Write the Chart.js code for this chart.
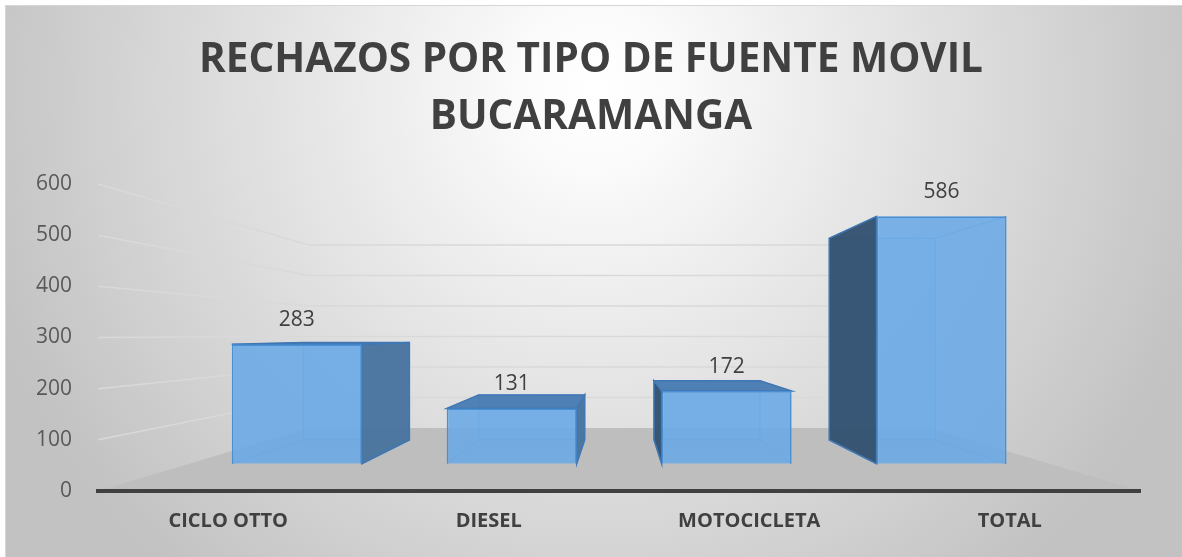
<!DOCTYPE html>
<html>
<head>
<meta charset="utf-8">
<script src="https://cdn.jsdelivr.net/npm/chart.js@4.4.1/dist/chart.umd.min.js"></script>
<style>
  html, body { margin: 0; padding: 0; background: #fff; }
  #wrap { width: 1182px; height: 557px; }
</style>
</head>
<body>
<div id="wrap"><canvas id="chart"></canvas></div>
<script>
const categories = ['CICLO OTTO', 'DIESEL', 'MOTOCICLETA', 'TOTAL'];
const rechazos = [283, 131, 172, 586];
const yTicks = [0, 100, 200, 300, 400, 500, 600];

// fake 3D: vanishing point and depth ratios (1 = axis plane)
const view = { vx: 620, vy: 335, kFront: 0.825, kBack: 0.673, kWall: 0.596 };

function project(x, y, k) {
    return [view.vx + k * (x - view.vx), view.vy + k * (y - view.vy)];
}

function poly(ctx, pts) {
    ctx.beginPath();
    ctx.moveTo(pts[0][0], pts[0][1]);
    for (let i = 1; i < pts.length; i++) ctx.lineTo(pts[i][0], pts[i][1]);
    ctx.closePath();
}

function line(ctx, a, b) {
    ctx.beginPath();
    ctx.moveTo(a[0], a[1]);
    ctx.lineTo(b[0], b[1]);
    ctx.stroke();
}

// background, floor and walls
const scene = {
    id: 'scene',
    beforeDraw(chart) {
        const ctx = chart.ctx;
        const area = chart.chartArea;
        const y = chart.scales.y;
        const W = chart.width, H = chart.height;
        ctx.save();
        ctx.fillStyle = '#ffffff';
        ctx.fillRect(0, 0, W, H);
        const g = ctx.createRadialGradient(595, 90, 0, 595, 90, 640);
        g.addColorStop(0, '#ffffff');
        g.addColorStop(0.1, '#fcfcfc');
        g.addColorStop(1, '#c2c2c2');
        ctx.fillStyle = g;
        ctx.fillRect(5, 5, W - 5, H - 5);
        ctx.strokeStyle = '#d6d6d6';
        ctx.lineWidth = 1;
        ctx.strokeRect(5.5, 5.5, W, H);

        const L = area.left, R = area.right, B = y.getPixelForValue(0);
        const k = view.kWall;

        // floor
        ctx.fillStyle = '#bebebe';
        poly(ctx, [[L, B], [R, B], project(R, B, k), project(L, B, k)]);
        ctx.fill();

        // gridlines on side wall and back wall
        ctx.strokeStyle = '#d9d9d9';
        ctx.lineWidth = 1.5;
        yTicks.slice(1).forEach(v => {
            const py = y.getPixelForValue(v);
            const corner = project(L, py, k);
            line(ctx, [L, py], corner);
            line(ctx, corner, project(R, py, k));
        });
        ctx.restore();
    }
};

// back, side and top faces of each bar; front face is the Chart.js bar
const boxes = {
    id: 'boxes',
    beforeDatasetsDraw(chart) {
        const ctx = chart.ctx;
        const meta = chart.getDatasetMeta(0);
        const f = (px, py) => project(px, py, view.kFront);
        const b = (px, py) => project(px, py, view.kBack);
        ctx.save();
        meta.data.forEach(bar => {
            const { x, y, base, width } = bar.getProps(['x', 'y', 'base', 'width'], true);
            const l = x - width / 2, r = x + width / 2;

            // inner edges seen through the transparent front
            ctx.fillStyle = 'rgba(110,170,230,0.25)';
            ctx.strokeStyle = 'rgba(60,120,185,0.55)';
            ctx.lineWidth = 1;
            poly(ctx, [b(l, y), b(r, y), b(r, base), b(l, base)]);
            ctx.fill();
            ctx.stroke();
            line(ctx, f(l, base), b(l, base));
            line(ctx, f(r, base), b(r, base));
            line(ctx, f(l, y), b(l, y));
            line(ctx, f(r, y), b(r, y));

            ctx.strokeStyle = '#3f78b5';
            ctx.lineWidth = 1.5;
            if (f(r, y)[0] < view.vx) {
                ctx.fillStyle = 'rgba(72,115,158,0.95)';
                poly(ctx, [f(r, y), b(r, y), b(r, base), f(r, base)]);
                ctx.fill();
                ctx.stroke();
            }
            if (f(l, y)[0] > view.vx) {
                ctx.fillStyle = 'rgba(48,80,112,0.95)';
                poly(ctx, [f(l, y), b(l, y), b(l, base), f(l, base)]);
                ctx.fill();
                ctx.stroke();
            }
            if (y > view.vy) {
                ctx.fillStyle = 'rgba(72,122,178,0.95)';
                poly(ctx, [f(l, y), f(r, y), b(r, y), b(l, y)]);
                ctx.fill();
                ctx.stroke();
            }
        });
        ctx.restore();

        // push the bars back into the front plane of the boxes
        ctx.save();
        ctx.translate(view.vx, view.vy);
        ctx.scale(view.kFront, view.kFront);
        ctx.translate(-view.vx, -view.vy);
    },
    afterDatasetsDraw(chart) {
        const ctx = chart.ctx;
        ctx.restore();
        const meta = chart.getDatasetMeta(0);
        ctx.save();
        ctx.fillStyle = '#404040';
        ctx.font = "21px 'Open Sans', sans-serif";
        ctx.textAlign = 'center';
        ctx.textBaseline = 'middle';
        meta.data.forEach((bar, i) => {
            const { x, y } = bar.getProps(['x', 'y'], true);
            const p = project(x, y, view.kFront);
            ctx.fillText(String(rechazos[i]), p[0], p[1] - 24);
        });
        ctx.restore();
    }
};

Chart.defaults.font.family = "'Open Sans', sans-serif";

new Chart(document.getElementById('chart'), {
    type: 'bar',
    data: {
        labels: categories,
        datasets: [{
            data: rechazos,
            backgroundColor: 'rgba(106,170,230,0.88)',
            borderColor: '#4a8ed4',
            borderWidth: 2,
            barPercentage: 0.605,
            categoryPercentage: 1
        }]
    },
    options: {
        responsive: true,
        maintainAspectRatio: false,
        animation: false,
        layout: { padding: { left: 0, right: 0, top: 0, bottom: 16 } },
        plugins: {
            legend: { display: false },
            tooltip: { enabled: false },
            title: {
                display: true,
                text: ['RECHAZOS POR TIPO DE FUENTE MOVIL', 'BUCARAMANGA'],
                color: '#404040',
                font: { size: 40.5, weight: 'bold', lineHeight: 57 / 40.5 },
                padding: { top: 32, bottom: 38 }
            }
        },
        scales: {
            x: {
                grid: { display: false },
                border: { display: true, color: '#404040', width: 4 },
                ticks: {
                    color: '#404040',
                    font: { size: 20, weight: 'bold' },
                    padding: 10
                },
                afterFit: s => { s.height = 50; }
            },
            y: {
                min: 0,
                max: 600,
                grid: { display: false },
                border: { display: false },
                afterBuildTicks: s => { s.ticks = yTicks.map(v => ({ value: v })); },
                ticks: {
                    color: '#595959',
                    font: { size: 21 },
                    padding: 18
                },
                afterFit: s => { s.width = 98; }
            },
            // empty strip on the right, keeps the title centred on the whole box
            yRight: {
                position: 'right',
                grid: { display: false },
                border: { display: false },
                ticks: { display: false },
                afterFit: s => { s.width = 42; }
            }
        }
    },
    plugins: [scene, boxes]
});
</script>
</body>
</html>
